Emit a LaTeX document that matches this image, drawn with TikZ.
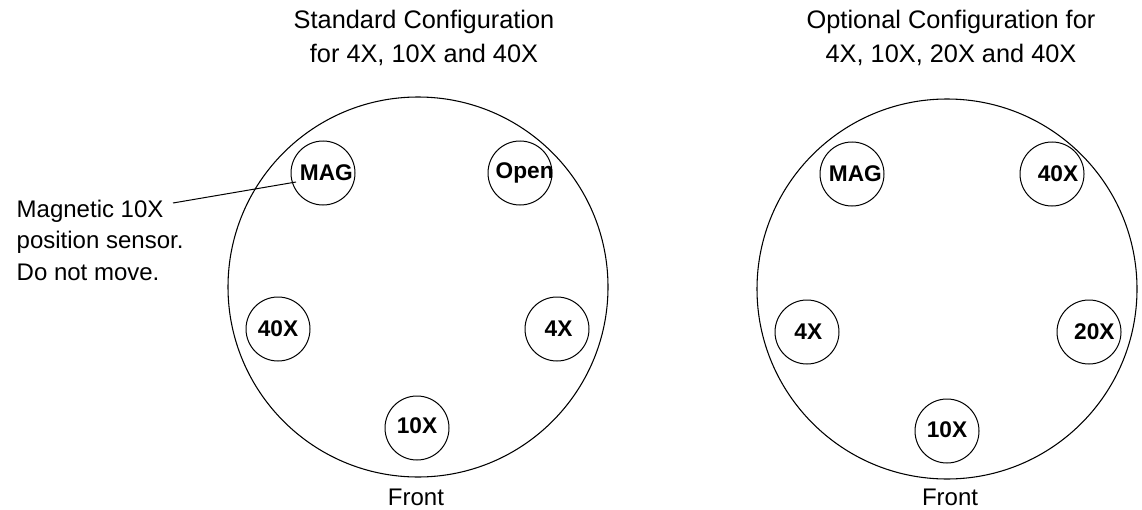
\documentclass[tikz,border=0pt]{standalone}
\usepackage{fontspec}
\setmainfont{Liberation Sans}
\begin{document}
\begin{tikzpicture}[x=0.75pt,y=-0.75pt,
  bigdisc/.style={draw=black,line width=0.8pt,circle,minimum size=380*0.75pt,inner sep=0pt},
  slot/.style={draw=black,line width=0.75pt,circle,minimum size=64*0.75pt,inner sep=0pt},
  slottext/.style={inner sep=0pt,font=\fontsize{17}{20}\selectfont\bfseries},
  title/.style={align=center,anchor=base,font=\fontsize{19}{26}\selectfont},
  plain/.style={font=\fontsize{18}{23.6}\selectfont},
  leader/.style={draw=black,line width=0.75pt}]
\useasboundingbox (0,0) rectangle (1142,510);
% left configuration
\node[title] (t1) at (424,63) {Standard Configuration\\for 4X, 10X and 40X};
\node[bigdisc] (d1) at (418,287) {};
\node[slot,label={[slottext,xshift=2.5pt]center:MAG}] (mag1) at (323,173) {};
\node[slot,label={[slottext,xshift=3.5pt]center:Open}] (open1) at (520,173) {};
\node[slot,label={[slottext]center:40X}] (p40a) at (278,329) {};
\node[slot,label={[slottext,xshift=1.2pt]center:4X}] (p4a) at (557,329) {};
\node[slot,label={[slottext,yshift=2pt]center:10X}] (p10a) at (417,428) {};
\node[plain,anchor=base] (f1) at (416,505) {Front};
\node[plain,anchor=base west,align=left] (lbl) at (12,280) {Magnetic 10X\\position sensor.\\Do not move.};
\coordinate (lblend) at (173,203);
\coordinate (magpt) at (296,182);
\draw[leader] (lblend) -- (magpt);
% right configuration
\node[title] (t2) at (951,63) {Optional Configuration for\\4X, 10X, 20X and 40X};
\node[bigdisc] (d2) at (947,289) {};
\node[slot,label={[slottext,xshift=2.5pt]center:MAG}] (mag2) at (852,174) {};
\node[slot,label={[slottext,xshift=4.5pt]center:40X}] (p40b) at (1052,174) {};
\node[slot,label={[slottext,xshift=1pt]center:4X}] (p4b) at (807,332) {};
\node[slot,label={[slottext,xshift=4pt]center:20X}] (p20b) at (1089,332) {};
\node[slot,label={[slottext,yshift=1pt]center:10X}] (p10b) at (947,431) {};
\node[plain,anchor=base] (f2) at (950,505) {Front};
\end{tikzpicture}
\end{document}
